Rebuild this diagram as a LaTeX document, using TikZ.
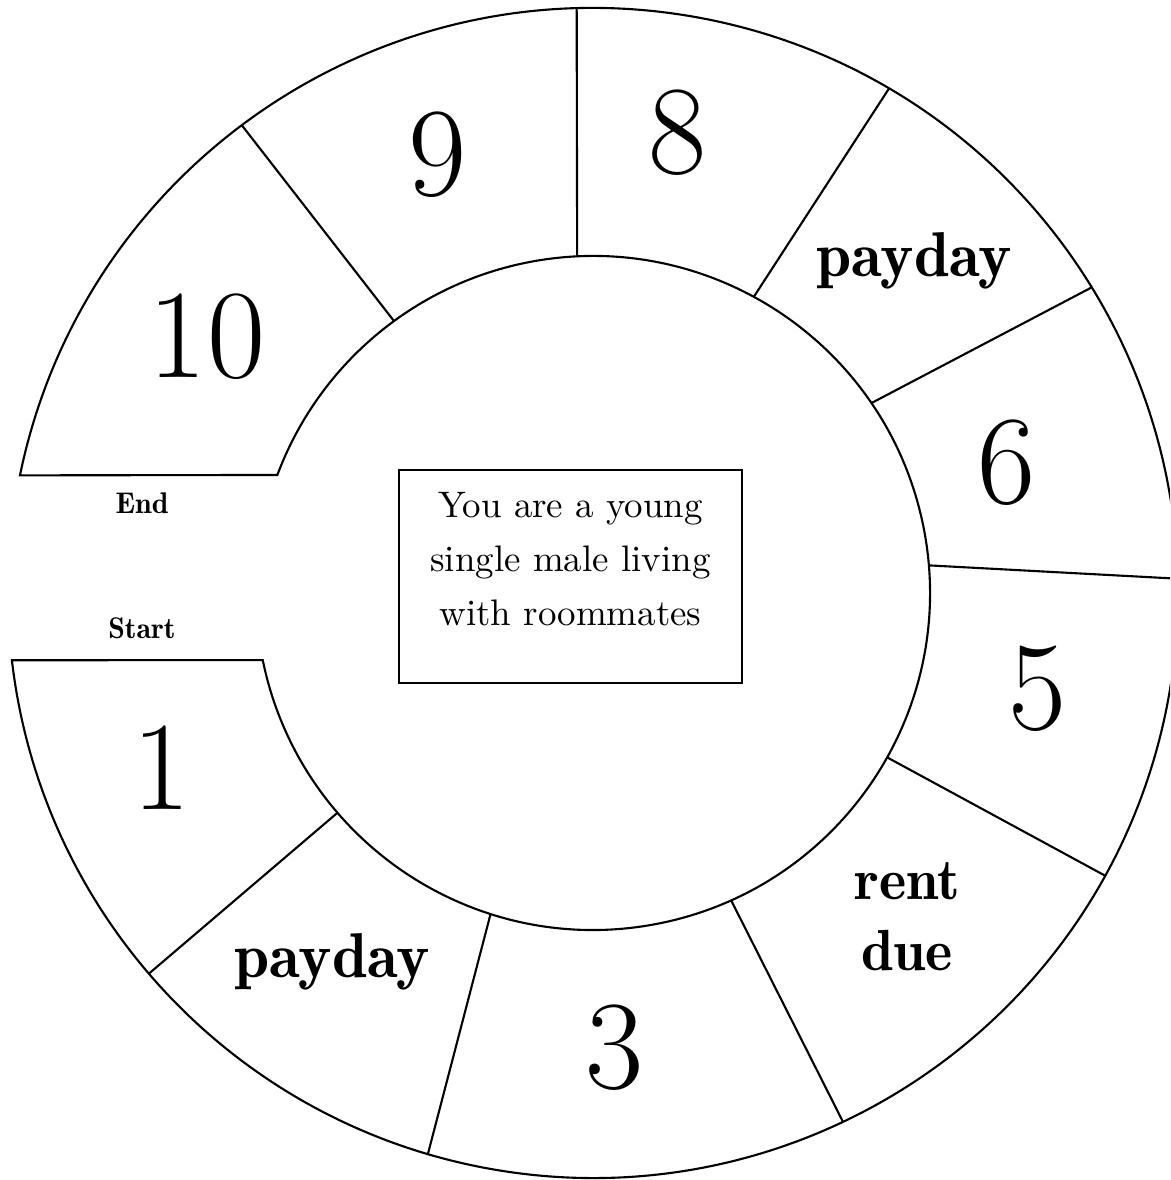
\documentclass[tikz,border=0pt]{standalone}
\usetikzlibrary{calc}

\begin{document}
\begin{tikzpicture}[x=0.01cm, y=0.01cm, line width=0.6pt,
    number/.style={font=\fontsize{36}{40}\selectfont, inner sep=0pt},
    tag/.style={font=\fontsize{18}{21}\fontseries{b}\selectfont, inner sep=0pt, anchor=base},
    mark label/.style={font=\fontsize{8.5}{10}\fontseries{b}\selectfont, inner sep=0pt, anchor=base}]
    \useasboundingbox (0,0) rectangle (1170,1180);
    \clip (0,0) rectangle (1170,1180);
    \coordinate (c) at (593,587);

    % Track: outer rim, Start line, inner rim, End line
    \draw ($(c)+(168.4:585)$) arc[start angle=168.4, end angle=-173.4, radius=585]
        -- ($(c)+(-168.5:337)$) arc[start angle=-168.5, end angle=159.5, radius=337] -- cycle;

    % Lines between the squares
    \foreach \a/\b in {126.2/126.9, 92.7/91.6, 61.5/59.6, 34.3/31.5, 4.7/1.4,
                       -29.2/-28.9, -65.8/-64.7, -107.7/-106.4, -139.3/-139.4}
        \draw ($(c)+(\a:337)$) -- ($(c)+(\b:585)$);

    % Numbered squares
    \node[number] (sq10) at (207,843) {10};
    \node[number] (sq9) at (438,1025) {9};
    \node[number] (sq8) at (678,1047) {8};
    \node[number] (sq6) at (1007,717) {6};
    \node[number] (sq5) at (1038,491) {5};
    \node[number] (sq3) at (615,132) {3};
    \node[number] (sq1) at (162,412) {1};

    % Event squares
    \node[tag] (pay7) at (914,903) {payday};
    \node[tag] (pay2) at (332,202) {payday};
    \node[tag, font=\fontsize{16.5}{20.2}\fontseries{b}\selectfont, align=center, anchor=center]
        (rent4) at (907,263) {rent\\due};

    % Start and end
    \node[mark label] (finish) at (142,666) {End};
    \node[mark label] (begin) at (142,541) {Start};

    % Story card
    \node[draw, minimum width=3.43cm, minimum height=2.13cm] (card) at (570.5,603.5) {};
    \node[font=\fontsize{10.5}{15.4}\selectfont, align=center] (story) at (570.5,621)
        {You are a young\\single male living\\with roommates};
\end{tikzpicture}
\end{document}
